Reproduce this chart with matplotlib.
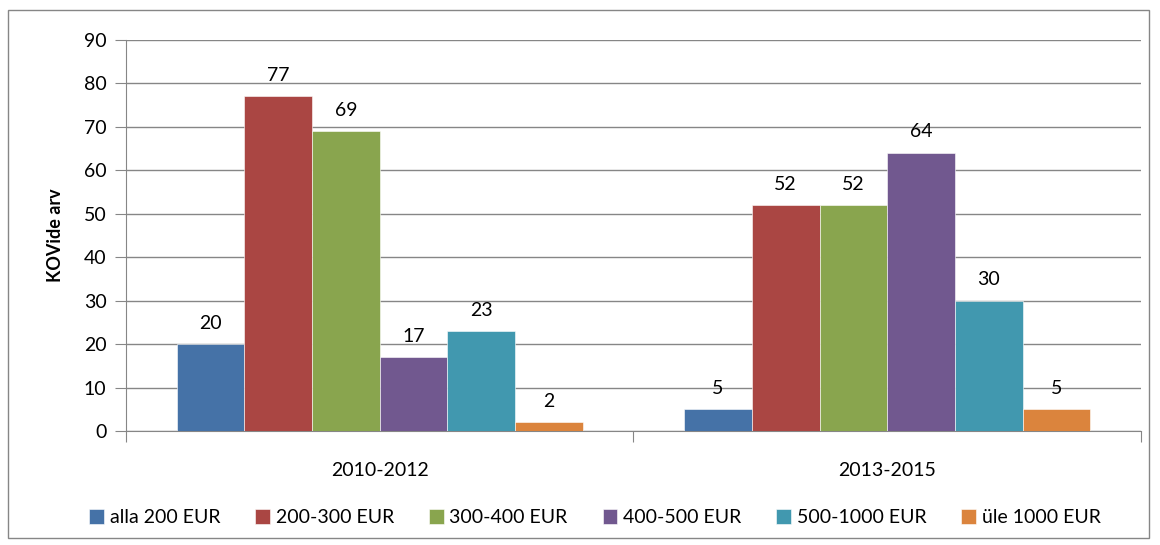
import numpy as np
import matplotlib.pyplot as plt
from matplotlib.patches import Rectangle

plt.rcParams['font.family'] = ['Lato', 'DejaVu Sans']

periods = ['2010-2012', '2013-2015']
groups = ['alla 200 EUR', '200-300 EUR', '300-400 EUR', '400-500 EUR', '500-1000 EUR', 'üle 1000 EUR']
values = [
    [20, 5],
    [77, 52],
    [69, 52],
    [17, 64],
    [23, 30],
    [2, 5],
]
colors = ['#4572A7', '#AA4643', '#89A54E', '#71588F', '#4198AF', '#DB843D']

fig = plt.figure(figsize=(11.6, 5.45), dpi=100)
ax = fig.add_axes([0.1086, 0.2092, 0.875, 0.7174])

fig.patches.append(Rectangle((0.0069, 0.0128), 0.9836, 0.9688, transform=fig.transFigure,
                             fill=False, edgecolor='#868686', linewidth=1))

x = np.arange(len(periods))
w = 0.8 / len(groups)
for i, (name, vals) in enumerate(zip(groups, values)):
    pos = x - 0.4 + w * (i + 0.5)
    bars = ax.bar(pos, vals, width=w, color=colors[i], label=name,
                  edgecolor='white', linewidth=0.4, zorder=3)
    for b, v in zip(bars, vals):
        ax.annotate(str(v), (b.get_x() + b.get_width() / 2, v), xytext=(0, 9),
                    textcoords='offset points', ha='center', va='bottom', fontsize=14)

ax.set_xlim(-0.5, 1.5)
ax.set_ylim(0, 90)
ax.set_yticks(range(0, 91, 10))
ax.yaxis.grid(True, color='#868686', linewidth=1, zorder=0)
ax.set_xticks([-0.5, 0.5, 1.5])
ax.set_xticklabels([])
ax.set_xticks(x, minor=True)
ax.set_xticklabels(periods, minor=True)
ax.tick_params(axis='x', which='major', length=8, color='#868686', direction='out')
ax.tick_params(axis='x', which='minor', length=0, pad=22, labelsize=14)
ax.tick_params(axis='y', length=8, color='#868686', labelsize=14, pad=6)

for s in ['top', 'right']:
    ax.spines[s].set_visible(False)
for s in ['left', 'bottom']:
    ax.spines[s].set_color('#868686')

ax.set_ylabel('KOVide arv', fontsize=13, fontweight='bold', labelpad=14)

fig.legend(loc='center', bbox_to_anchor=(0.513, 0.05), ncol=6, frameon=False, fontsize=14,
           handlelength=0.75, handleheight=0.75, handletextpad=0.3, columnspacing=1.8)

fig.savefig('out.png', dpi=100)
